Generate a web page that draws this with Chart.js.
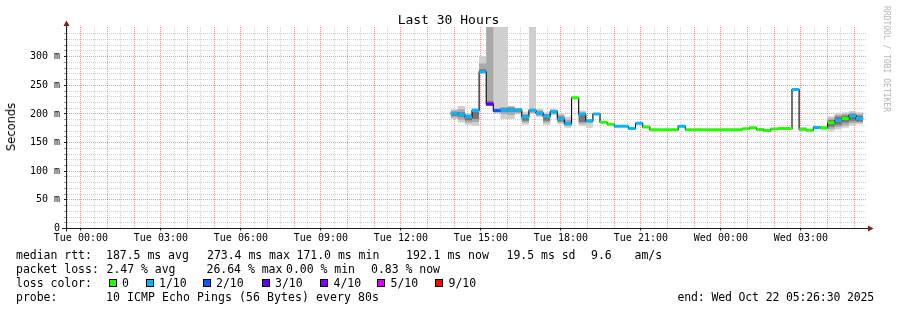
<!DOCTYPE html>
<html><head><meta charset="utf-8">
<script src="https://cdn.jsdelivr.net/npm/chart.js@4.4.1/dist/chart.umd.min.js"></script>
<style>
html,body{margin:0;padding:0;background:#fff;}
#wrap{position:relative;width:897px;height:310px;overflow:hidden;background:#fff;}
#c{position:absolute;left:0;top:0;}
.t{position:absolute;white-space:pre;font-family:"DejaVu Sans Mono",monospace;color:#000;}
.lg{font-size:11.5px;line-height:14px;}
.sw{position:absolute;width:6px;height:6px;border:1px solid #000;}
</style></head><body>
<div id="wrap">
<canvas id="c" width="897" height="310"></canvas>
<div class="t" style="left:0;width:897px;text-align:center;top:12px;font-size:13px;line-height:16px;">Last 30 Hours</div>
<div class="t" style="left:11px;top:127px;transform:translate(-50%,-50%) rotate(-90deg);font-family:'DejaVu Sans',sans-serif;font-size:11.5px;line-height:14px;">Seconds</div>
<div class="t" style="left:886px;top:59px;transform:translate(-50%,-50%) rotate(90deg);font-size:8px;line-height:10px;color:#b4b4b4;">RRDTOOL / TOBI OETIKER</div>

<div class="t lg" style="left:16px;top:247.5px;">median rtt:</div>
<div class="t lg" style="left:106px;top:247.5px;">187.5 ms avg</div>
<div class="t lg" style="left:207px;top:247.5px;">273.4 ms max</div>
<div class="t lg" style="left:296.5px;top:247.5px;">171.0 ms min</div>
<div class="t lg" style="left:406px;top:247.5px;">192.1 ms now</div>
<div class="t lg" style="left:506.5px;top:247.5px;">19.5 ms sd</div>
<div class="t lg" style="left:591px;top:247.5px;">9.6</div>
<div class="t lg" style="left:634.5px;top:247.5px;">am/s</div>

<div class="t lg" style="left:16px;top:261.5px;">packet loss:</div>
<div class="t lg" style="left:106.5px;top:261.5px;">2.47 % avg</div>
<div class="t lg" style="left:206.5px;top:261.5px;">26.64 % max</div>
<div class="t lg" style="left:286px;top:261.5px;">0.00 % min</div>
<div class="t lg" style="left:371px;top:261.5px;">0.83 % now</div>

<div class="t lg" style="left:16px;top:275.5px;">loss color:</div>
<div id="lossLegend"></div>

<div class="t lg" style="left:16px;top:289.5px;">probe:</div>
<div class="t lg" data-adv="7.0" style="left:106px;top:289.5px;">10 ICMP Echo Pings (56 Bytes) every 80s</div>
<div class="t lg" data-adv="6.78" style="left:677.5px;top:289.5px;">end: Wed Oct 22 05:26:30 2025</div>
</div>
<script>
// ---------------- data ----------------
const lossColors = ['#26ff00','#00b8ff','#0059ff','#5e00ff','#7e00ff','#dd00ff','#ff0000'];
const lossLabels = ['0','1/10','2/10','3/10','4/10','5/10','9/10'];

// time axis in hours relative to Tue 00:00
const axisStartHour = -33.5/60;        // Mon 23:26:30
const axisEndHour = 29 + 26.5/60;      // Wed 05:26:30
const firstStepHour = 13 + 52/60;      // first consolidated step, Tue 13:52
const stepHours = 16/60;               // 16 minute steps

const xLabelHours = [0,3,6,9,12,15,18,21,24,27];
const xLabelTexts = ['Tue 00:00','Tue 03:00','Tue 06:00','Tue 09:00','Tue 12:00','Tue 15:00','Tue 18:00','Tue 21:00','Wed 00:00','Wed 03:00'];
const yLabelValues = [0,50,100,150,200,250,300];
const yLabelTexts = ['0','50 m','100 m','150 m','200 m','250 m','300 m'];

// median rtt per step (ms)
const median = [201,199,195,206,273.4,217.5,205.5,206.7,206.7,206.7,
  195,206,201.5,196,203.8,191,183,228.3,199.8,188,
  200,185.5,182,178.5,178.5,174.6,183.7,177.4,172.4,172.4,
  172.4,172.4,178.5,172.4,172.4,172.4,172.4,172.4,172.4,172.4,
  172.4,174,175.8,173,171.0,173.5,174.5,174.5,242.7,173.2,
  171.6,176.4,175.8,184.5,189,192,197,192.1];
// loss class per step (index into lossColors)
const lossClass = [1,1,1,1,1,3,2,1,1,1,
  1,1,1,1,1,1,1,0,1,1,
  1,0,0,1,1,1,1,0,0,0,
  0,0,1,0,0,0,0,0,0,0,
  0,0,0,0,0,0,0,0,1,0,
  0,1,0,0,1,0,1,1];
const N = null;
// smoke (ping spread) per step, ms; null = no visible spread
const outerLo = [191,185,181,179,272,214,203,191,191,199,
  181,200,195,181,198,182,176,N,179,176,
  N,N,N,N,N,N,N,N,N,N,
  N,N,N,N,N,N,N,N,N,N,
  N,N,N,N,N,N,N,N,N,169,
  N,N,171,170,173,176,180,182];
const outerHi = [208,214,201,211,301,400,400,400,214,211,
  204,400,209,203,209,202,195,N,206,191,
  N,N,N,N,N,N,N,N,N,N,
  N,N,N,N,N,N,N,N,N,N,
  N,N,N,N,N,N,N,N,N,177,
  N,N,179,196,202,203,205,203];
const midLo = [194,190,185,186,272,214,203,200,198,201,
  185,202,197,185,200,185,179,N,183,184,
  N,N,N,N,N,N,N,N,N,N,
  N,N,N,N,N,N,N,N,N,N,
  N,N,N,N,N,N,N,N,N,N,
  N,N,N,174,177,180,184,185];
const midHi = [206,208,199,209,288,400,210,212,213,210,
  200,210,206,200,207,198,190,N,202,190,
  N,N,N,N,N,N,N,N,N,N,
  N,N,N,N,N,N,N,N,N,N,
  N,N,N,N,N,N,N,N,N,N,
  N,N,N,192,198,200,202,200];
const innerLo = [197,195,189,191,272,214,204,204,204,204,
  188,204,199,188,202,187,181,N,186,186,
  N,N,N,N,N,N,N,N,N,N,
  N,N,N,N,N,N,N,N,N,N,
  N,N,N,N,N,N,N,N,N,N,
  N,N,N,178,181,185,188,187];
const innerHi = [203,203,198,205,278,222,208,210,211,209,
  198,208,204,199,206,195,186,N,199,189,
  N,N,N,N,N,N,N,N,N,N,
  N,N,N,N,N,N,N,N,N,N,
  N,N,N,N,N,N,N,N,N,N,
  N,N,N,189,195,197,200,197];

// ---------------- legend swatches ----------------
const swatchX = [108.5,145.5,202.5,261.5,320,377,435];
(function(){
  const host = document.getElementById('lossLegend');
  lossLabels.forEach((lab,i)=>{
    const s = document.createElement('div');
    s.className='sw'; s.style.left = swatchX[i]+'px'; s.style.top='278.5px';
    s.style.background = lossColors[i];
    host.appendChild(s);
    const t = document.createElement('div');
    t.className='t lg'; t.style.left=(swatchX[i]+13.5)+'px'; t.style.top='275.5px';
    t.textContent = lab;
    host.appendChild(t);
  });
  // normalise character advance of legend text to the reference's monospace pitch
  document.querySelectorAll('.lg').forEach(el=>{
    const adv = parseFloat(el.dataset.adv || '6.9');
    const n = el.textContent.length;
    const w = el.getBoundingClientRect().width;
    el.style.letterSpacing = ((adv*n - w)/n).toFixed(3)+'px';
  });
})();

// ---------------- build datasets ----------------
const tAt = i => firstStepHour + i*stepHours;
function stepped(vals){
  const pts = vals.map((v,i)=>({x:tAt(i), y:(v===null?median[i]:v)}));
  pts.push({x:tAt(vals.length), y:pts[pts.length-1].y});
  return pts;
}
const coloredPts = [];
median.forEach((v,i)=>{
  coloredPts.push({x:tAt(i),y:v},{x:tAt(i+1),y:v},{x:tAt(i+1),y:null});
});

const smokeColors = {outer:'#cfcfcf', mid:'#a9a9a9', inner:'#767676'};

const xGrid = []; for(let h=-0.5; h<=29.01; h+=0.5) xGrid.push(h);
const yGrid = []; for(let v=0; v<=340; v+=10) yGrid.push(v);

// rrdtool-like grid colours
const majorGrid = 'rgba(235,60,60,0.55)';
const minorGrid = 'rgba(143,143,143,0.4)';

const arrows = {
  id:'arrows',
  afterDraw(chart){
    const {ctx, chartArea:a} = chart;
    ctx.save();
    ctx.strokeStyle = '#1f1f1f'; ctx.lineWidth = 1;
    ctx.beginPath();
    ctx.moveTo(a.left-4, 228.5); ctx.lineTo(a.right+4, 228.5);
    ctx.moveTo(66.5, a.bottom+3); ctx.lineTo(66.5, a.top-3);
    ctx.stroke();
    ctx.fillStyle = '#801f1f';
    ctx.beginPath(); ctx.moveTo(63.5,26); ctx.lineTo(69.5,26); ctx.lineTo(66.5,20.5); ctx.closePath(); ctx.fill();
    ctx.beginPath(); ctx.moveTo(868,225.5); ctx.lineTo(868,231.5); ctx.lineTo(873.5,228.5); ctx.closePath(); ctx.fill();
    ctx.restore();
  }
};

new Chart(document.getElementById('c'), {
  type:'line',
  data:{datasets:[
    {data:coloredPts, borderWidth:3, borderCapStyle:'butt', pointRadius:0, spanGaps:false,
     borderColor:lossColors[1], order:0,
     segment:{borderColor: ctx => lossColors[lossClass[Math.floor(ctx.p0DataIndex/3)]]}},
    {data:stepped(median), stepped:true, borderWidth:1.2, borderColor:'#151515', pointRadius:0, order:1},
    {data:stepped(innerHi), stepped:true, borderWidth:0, pointRadius:0, fill:'+1', backgroundColor:smokeColors.inner, order:2},
    {data:stepped(innerLo), stepped:true, borderWidth:0, pointRadius:0, order:2},
    {data:stepped(midHi), stepped:true, borderWidth:0, pointRadius:0, fill:'+1', backgroundColor:smokeColors.mid, order:3},
    {data:stepped(midLo), stepped:true, borderWidth:0, pointRadius:0, order:3},
    {data:stepped(outerHi), stepped:true, borderWidth:0, pointRadius:0, fill:'+1', backgroundColor:smokeColors.outer, order:4},
    {data:stepped(outerLo), stepped:true, borderWidth:0, pointRadius:0, order:4}
  ]},
  options:{
    responsive:false, animation:false, devicePixelRatio:1,
    layout:{padding:{left:0,right:31,top:27,bottom:0}},
    plugins:{legend:{display:false}, tooltip:{enabled:false}},
    scales:{
      x:{type:'linear', min:axisStartHour, max:axisEndHour, z:1,
        afterFit: s => { s.height = 81.5; },
        afterBuildTicks: s => { s.ticks = xGrid.map(v=>({value:v})); },
        ticks:{autoSkip:false, maxRotation:0, minRotation:0, padding:2, color:'#000',
          font:{family:'DejaVu Sans Mono', size:10},
          callback: v => { const k = xLabelHours.findIndex(h=>Math.abs(h-v)<1e-6); return k>=0 ? xLabelTexts[k] : ''; }},
        grid:{color: c => (c.tick && Math.abs(c.tick.value - Math.round(c.tick.value))<1e-6) ? majorGrid : minorGrid,
          lineWidth:1, drawTicks:true, tickLength:2,
          tickColor: c => (c.tick && xLabelHours.some(h=>Math.abs(h-c.tick.value)<1e-6)) ? '#1f1f1f' : 'rgba(0,0,0,0)'},
        border:{display:true, color:'#1f1f1f', width:1, dash:[1,1]}
      },
      y:{type:'linear', min:0, max:351.8, z:1,
        afterFit: s => { s.width = 66; },
        afterBuildTicks: s => { s.ticks = yGrid.map(v=>({value:v})); },
        ticks:{autoSkip:false, padding:4, color:'#000', font:{family:'DejaVu Sans Mono', size:10},
          callback: v => { const k = yLabelValues.indexOf(v); return k>=0 ? yLabelTexts[k] : ''; }},
        grid:{color: c => (c.tick && c.tick.value % 50 === 0) ? majorGrid : minorGrid,
          lineWidth:1, drawTicks:true, tickLength:2,
          tickColor: c => (c.tick && c.tick.value % 50 === 0) ? '#1f1f1f' : '#999'},
        border:{display:true, color:'#1f1f1f', width:1, dash:[1,1]}
      }
    }
  },
  plugins:[arrows]
});
</script>
</body></html>
